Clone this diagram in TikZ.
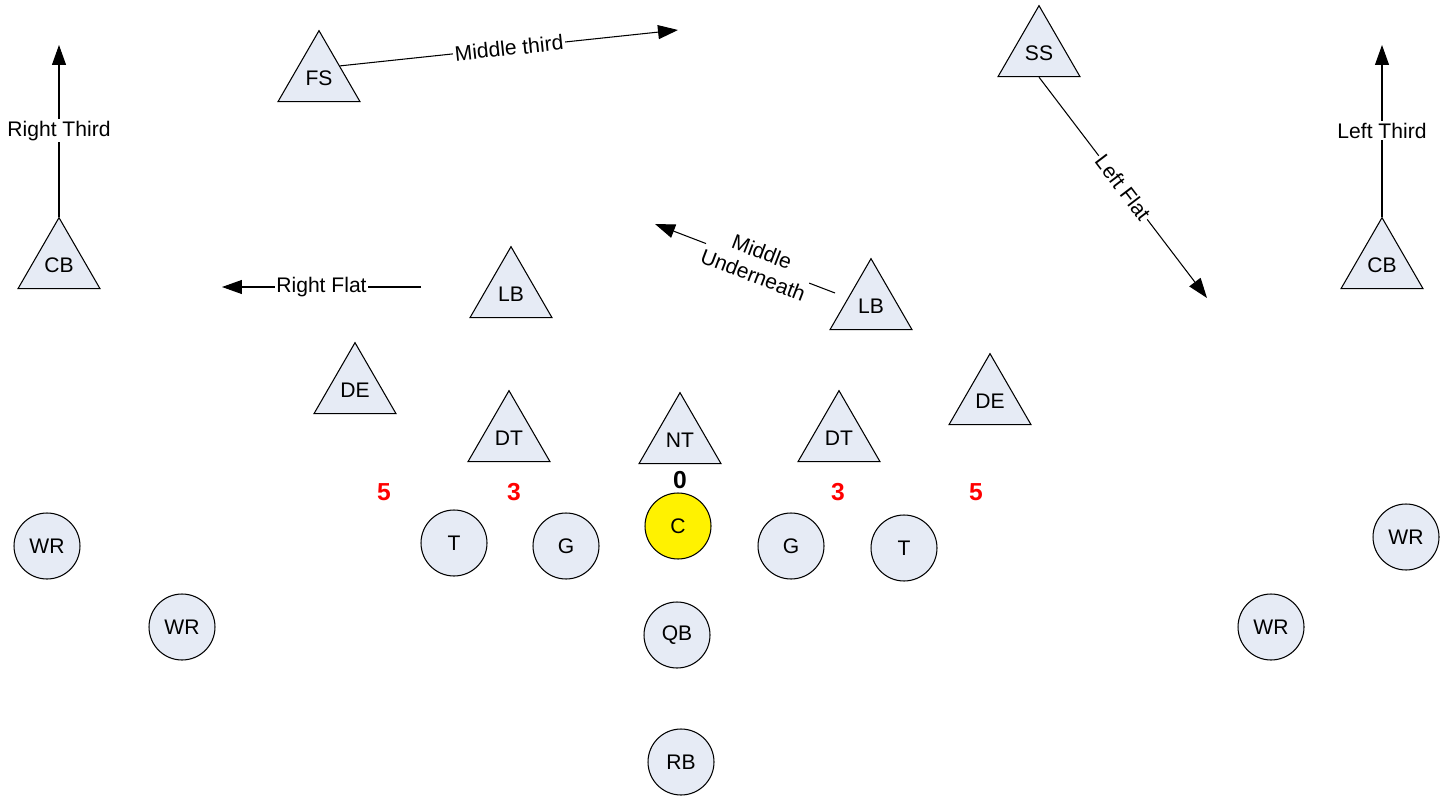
\documentclass[tikz,border=0pt]{standalone}
\usepackage{fontspec}
\setmainfont{Liberation Sans}
\usetikzlibrary{shapes.geometric,arrows.meta}
\definecolor{playerfill}{RGB}{230,235,245}
\definecolor{numred}{RGB}{255,0,0}
\begin{document}
\begin{tikzpicture}[x=0.02cm,y=-0.02cm,
  font=\fontsize{12}{14}\selectfont,
  defender/.style={regular polygon,regular polygon sides=3,draw=black,line width=0.6pt,
    fill=playerfill,minimum size=1.894cm,inner sep=0pt},
  offense/.style={circle,draw=black,line width=0.6pt,fill=playerfill,minimum size=1.32cm,inner sep=0pt},
  center/.style={offense,fill=yellow},
  gapnum/.style={font=\fontsize{14}{16}\selectfont\bfseries,text=numred},
  route/.style={line width=0.6pt,-{Triangle[length=0.4cm,width=0.28cm]}},
  zone/.style={fill=white,inner sep=1pt,align=center}]
\useasboundingbox (0,0) rectangle (1450,797);

% defense
\node[defender] (fs)  at (319,78)  {FS};
\node[defender] (ss)  at (1039,53) {SS};
\node[defender] (cbl) at (59,265)  {CB};
\node[defender] (cbr) at (1382,265) {CB};
\node[defender] (lbl) at (511,294) {LB};
\node[defender] (lbr) at (871,306) {LB};
\node[defender] (del) at (355,390) {DE};
\node[defender] (der) at (990,401) {DE};
\node[defender] (dtl) at (509,438) {DT};
\node[defender] (nt)  at (680,440) {NT};
\node[defender] (dtr) at (839,438) {DT};

% offense
\node[offense] (wr1) at (47,546)   {WR};
\node[offense] (wr2) at (182,627)  {WR};
\node[offense] (tl)  at (454,543)  {T};
\node[offense] (gl)  at (566,546)  {G};
\node[center]  (c)   at (678,526)  {C};
\node[offense] (gr)  at (791,546)  {G};
\node[offense] (tr)  at (904,548)  {T};
\node[offense] (wr3) at (1406,537) {WR};
\node[offense] (wr4) at (1271,627) {WR};
\node[offense] (qb)  at (677,635)  {QB};
\node[offense] (rb)  at (681,762)  {RB};

% gap techniques
\node[gapnum] (g5l) at (384,492) {5};
\node[gapnum] (g3l) at (514,492) {3};
\node[gapnum,text=black] (g0) at (680,480) {0};
\node[gapnum] (g3r) at (838,492) {3};
\node[gapnum] (g5r) at (976,492) {5};

% zone drops
\coordinate (rthird) at (59,45);
\coordinate (lthird) at (1382,45);
\coordinate (mthird) at (678,30);
\coordinate (lflat)  at (1207,298);
\coordinate (munderA) at (835,293);
\coordinate (munderB) at (655,224);
\coordinate (rflatA) at (421,287);
\coordinate (rflatB) at (222,287);

\draw[route] (cbl.corner 1) -- node[zone] {Right Third} (rthird);
\draw[route] (cbr.corner 1) -- node[zone] {Left Third} (lthird);
\draw[route] (fs.side 3) -- node[zone,sloped] {Middle third} (mthird);
\draw[route] (ss.side 2) -- node[zone,sloped] {Left Flat} (lflat);
\draw[route] (munderA) -- node[zone,sloped,pos=0.43,inner sep=0pt] {Middle\\Underneath} (munderB);
\draw[route] (rflatA) -- node[zone] {Right Flat} (rflatB);
\end{tikzpicture}
\end{document}
